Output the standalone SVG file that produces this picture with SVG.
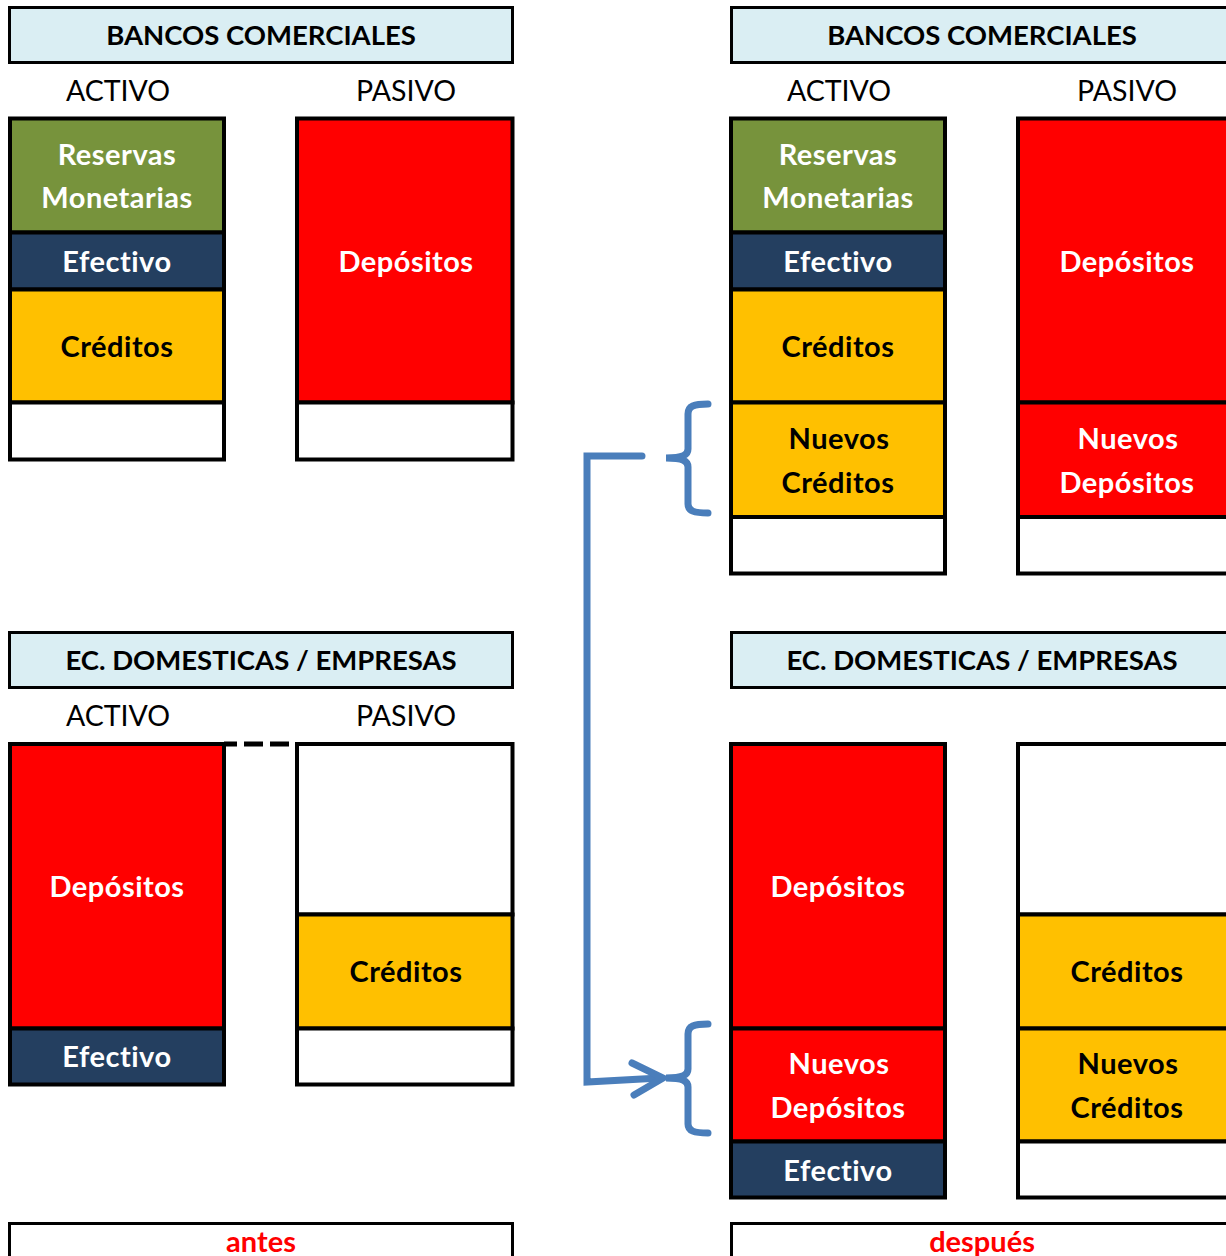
<svg xmlns="http://www.w3.org/2000/svg" width="1226" height="1256" viewBox="0 0 1226 1256">
<style>
.hdr{fill:#DAEEF3;stroke:#000;stroke-width:3}
.lbl{fill:#fff;stroke:#000;stroke-width:3}
.c{stroke:#000;stroke-width:4}
.g{fill:#77933C}.n{fill:#243F60}.y{fill:#FFC000}.r{fill:#FF0000}.w{fill:#FFFFFF}
text{font-family:Lato,"Liberation Sans",sans-serif;text-anchor:middle;font-variant-ligatures:none}
.ht{font-weight:bold;font-size:27.5px;fill:#000}
.ct{font-size:28.5px;fill:#000}
.tw{font-weight:bold;font-size:29px;fill:#fff;letter-spacing:0.5px}
.tb{font-weight:bold;font-size:29px;fill:#000;letter-spacing:0.5px}
.tr{font-weight:bold;font-size:29px;fill:#FF0000}
.blue{fill:none;stroke:#4A7EBB;stroke-width:7;stroke-linecap:round;stroke-linejoin:miter}
</style>

<g id="antes-bancos">
  <rect class="hdr" x="9.5" y="7.5" width="503" height="55"/>
  <text class="ht" x="261" y="45">BANCOS COMERCIALES</text>
  <text class="ct" x="118" y="101">ACTIVO</text>
  <text class="ct" x="406" y="101">PASIVO</text>
</g>
<g id="antes-bancos-activo">
  <rect class="c g" x="10" y="118.5" width="214" height="114"/>
  <rect class="c n" x="10" y="232.5" width="214" height="57"/>
  <rect class="c y" x="10" y="289.5" width="214" height="113"/>
  <rect class="c w" x="10" y="402.5" width="214" height="57"/>
  <text class="tw" x="117" y="165">Reservas</text>
  <text class="tw" x="117" y="208">Monetarias</text>
  <text class="tw" x="117" y="272">Efectivo</text>
  <text class="tb" x="117" y="357">Créditos</text>
</g>
<g id="antes-bancos-pasivo">
  <rect class="c r" x="297" y="118.5" width="215.5" height="284"/>
  <rect class="c w" x="297" y="402.5" width="215.5" height="57"/>
  <text class="tw" x="406" y="272">Depósitos</text>
</g>

<g id="antes-hogares">
  <rect class="hdr" x="9.5" y="632.5" width="503" height="55"/>
  <text class="ht" x="261" y="670">EC. DOMESTICAS / EMPRESAS</text>
  <text class="ct" x="118" y="726">ACTIVO</text>
  <text class="ct" x="406" y="726">PASIVO</text>
</g>
<g id="antes-hogares-activo">
  <rect class="c r" x="10" y="744" width="214" height="284.5"/>
  <rect class="c n" x="10" y="1028.5" width="214" height="56"/>
  <text class="tw" x="117" y="897">Depósitos</text>
  <text class="tw" x="117" y="1067">Efectivo</text>
</g>
<g id="antes-hogares-pasivo">
  <rect class="c w" x="297" y="744" width="215.5" height="170.5"/>
  <rect class="c y" x="297" y="914.5" width="215.5" height="114"/>
  <rect class="c w" x="297" y="1028.5" width="215.5" height="56"/>
  <text class="tb" x="406" y="982">Créditos</text>
</g>
<g id="antes-enlace">
  <path d="M224 744H237M244 744H263M270 744H289" stroke="#000" stroke-width="5" fill="none"/>
</g>

<g id="despues-bancos">
  <rect class="hdr" x="731.5" y="7.5" width="503" height="55"/>
  <text class="ht" x="982" y="45">BANCOS COMERCIALES</text>
  <text class="ct" x="839" y="101">ACTIVO</text>
  <text class="ct" x="1127" y="101">PASIVO</text>
</g>
<g id="despues-bancos-activo">
  <rect class="c g" x="731" y="118.5" width="214" height="114"/>
  <rect class="c n" x="731" y="232.5" width="214" height="57"/>
  <rect class="c y" x="731" y="289.5" width="214" height="113"/>
  <rect class="c y" x="731" y="402.5" width="214" height="114.5"/>
  <rect class="c w" x="731" y="517" width="214" height="56.5"/>
  <text class="tw" x="838" y="165">Reservas</text>
  <text class="tw" x="838" y="208">Monetarias</text>
  <text class="tw" x="838" y="272">Efectivo</text>
  <text class="tb" x="838" y="357">Créditos</text>
  <text class="tb" x="839" y="449">Nuevos</text>
  <text class="tb" x="838" y="493">Créditos</text>
</g>
<g id="despues-bancos-pasivo">
  <rect class="c r" x="1018" y="118.5" width="215.5" height="284"/>
  <rect class="c r" x="1018" y="402.5" width="215.5" height="114.5"/>
  <rect class="c w" x="1018" y="517" width="215.5" height="56.5"/>
  <text class="tw" x="1127" y="272">Depósitos</text>
  <text class="tw" x="1128" y="449">Nuevos</text>
  <text class="tw" x="1127" y="493">Depósitos</text>
</g>

<g id="despues-hogares">
  <rect class="hdr" x="731.5" y="632.5" width="503" height="55"/>
  <text class="ht" x="982" y="670">EC. DOMESTICAS / EMPRESAS</text>
</g>
<g id="despues-hogares-activo">
  <rect class="c r" x="731" y="744" width="214" height="284.5"/>
  <rect class="c r" x="731" y="1028.5" width="214" height="113"/>
  <rect class="c n" x="731" y="1141.5" width="214" height="56"/>
  <text class="tw" x="838" y="897">Depósitos</text>
  <text class="tw" x="839" y="1074">Nuevos</text>
  <text class="tw" x="838" y="1118">Depósitos</text>
  <text class="tw" x="838" y="1181">Efectivo</text>
</g>
<g id="despues-hogares-pasivo">
  <rect class="c w" x="1018" y="744" width="215.5" height="170.5"/>
  <rect class="c y" x="1018" y="914.5" width="215.5" height="114"/>
  <rect class="c y" x="1018" y="1028.5" width="215.5" height="113"/>
  <rect class="c w" x="1018" y="1141.5" width="215.5" height="56"/>
  <text class="tb" x="1127" y="982">Créditos</text>
  <text class="tb" x="1128" y="1074">Nuevos</text>
  <text class="tb" x="1127" y="1118">Créditos</text>
</g>

<g id="etiqueta-antes">
  <rect class="lbl" x="9.5" y="1223.5" width="503" height="45"/>
  <text class="tr" x="261" y="1252">antes</text>
</g>
<g id="etiqueta-despues">
  <rect class="lbl" x="731.5" y="1223.5" width="503" height="45"/>
  <text class="tr" x="982" y="1252">después</text>
</g>

<g id="conectores">
  <path class="blue" d="M708 404C694 404 688 406 688 414V449C688 455 683 458 666 458C683 458 688 461 688 467V504C688 511 694 513 708 513"/>
  <path class="blue" d="M708 1024C694 1024 688 1026 688 1034V1069C688 1075 683 1078 666 1078C683 1078 688 1081 688 1087V1124C688 1131 694 1133 708 1133"/>
  <path class="blue" d="M642 456H587V1082L660 1078"/>
  <path class="blue" d="M632 1063L663 1078L634 1095" stroke-linejoin="round"/>
</g>
</svg>
